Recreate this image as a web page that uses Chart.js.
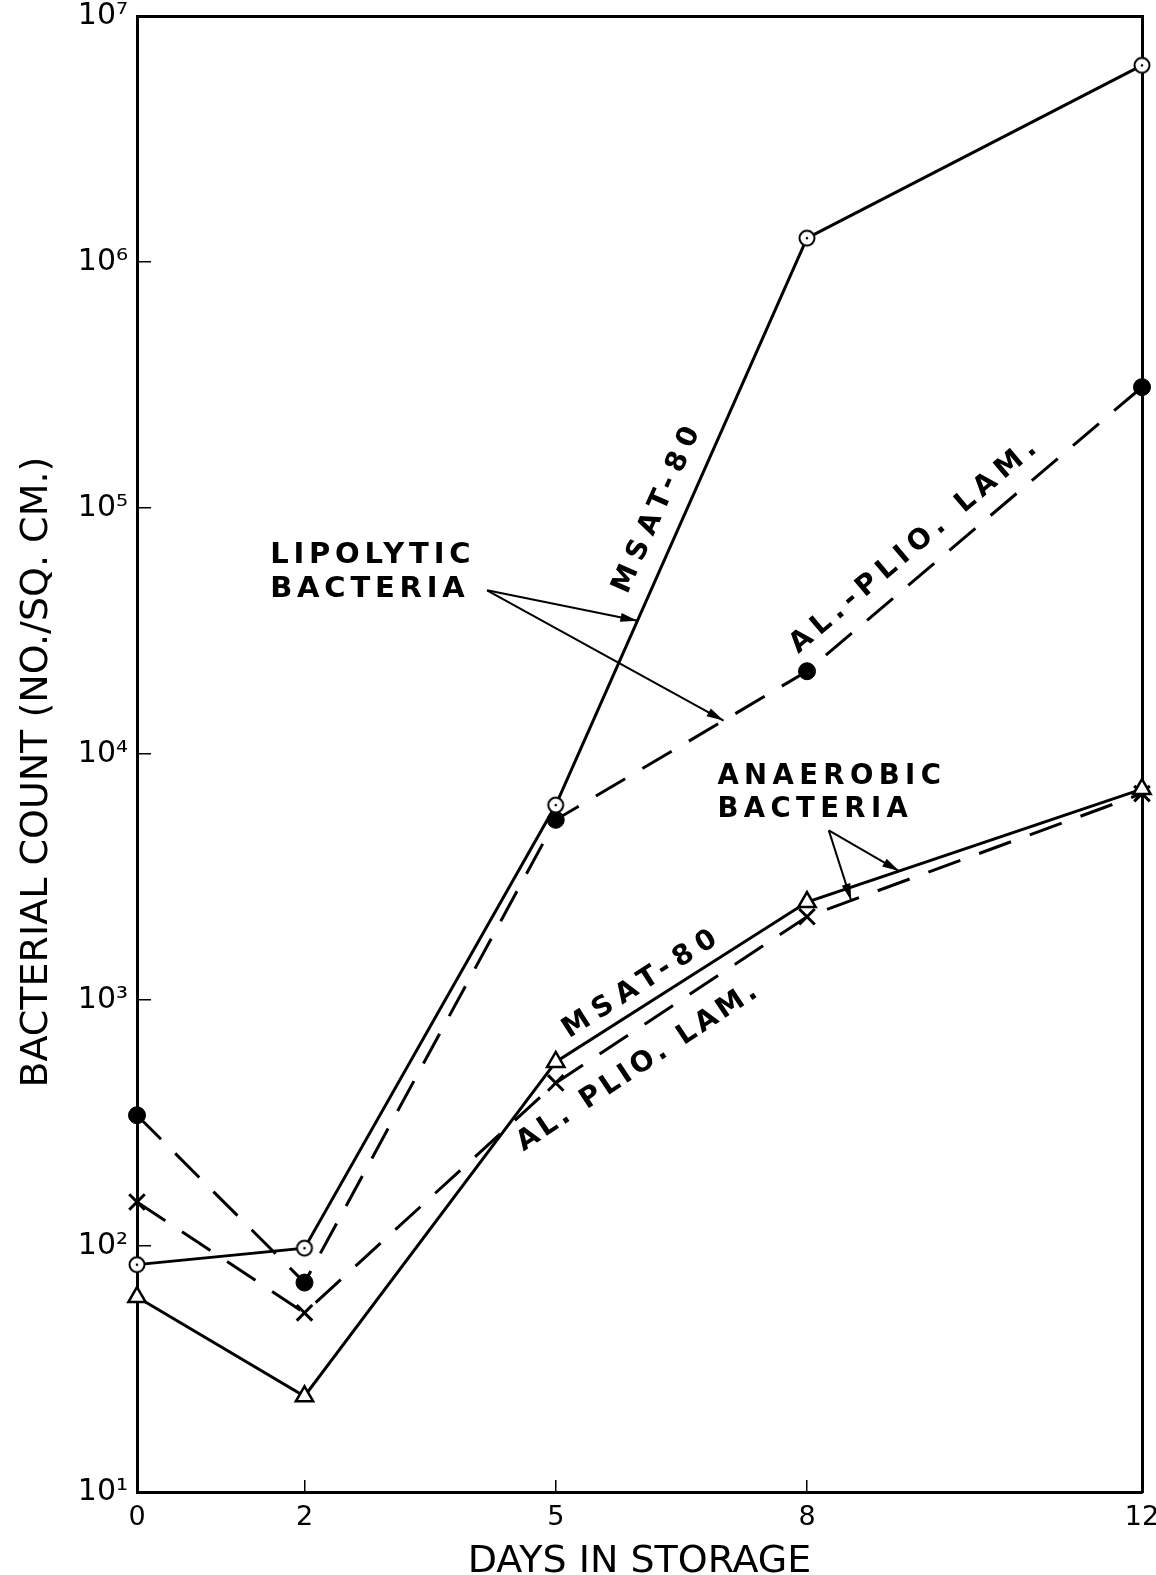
<!DOCTYPE html>
<html>
<head>
<meta charset="utf-8">
<script src="https://cdn.jsdelivr.net/npm/chart.js@4.4.1/dist/chart.umd.min.js"></script>
<style>
  html, body { margin: 0; padding: 0; background: #fff; }
  #wrap { width: 1156px; height: 1575px; }
</style>
</head>
<body>
<div id="wrap"><canvas id="c" width="1156" height="1575"></canvas></div>
<script>
// Days in storage and counts per sq. cm
const days = [0, 2, 5, 8, 12];
const lipolyticMsat = [84, 98, 6200, 1250000, 6300000];
const lipolyticAlPlio = [340, 71, 5400, 21700, 310000];
const anaerobicMsat = [62, 24.5, 560, 2500, 7200];
const anaerobicAlPlio = [151, 53.5, 460, 2180, 6900];

const xTicks = [0, 2, 5, 8, 12];
const yTicks = [1e1, 1e2, 1e3, 1e4, 1e5, 1e6, 1e7];

const xTitle = 'DAYS IN STORAGE';
const yTitle = 'BACTERIAL COUNT (NO./SQ. CM.)';
const groupLabels = [['LIPOLYTIC', 'BACTERIA'], ['ANAEROBIC', 'BACTERIA']];
const seriesLabels = ['MSAT-80', 'AL.-PLIO. LAM.', 'MSAT-80', 'AL. PLIO. LAM.'];

const FONT = "'DejaVu Sans', 'Liberation Sans', sans-serif";
const SUP = { '0': '\u2070', '1': '\u00B9', '2': '\u00B2', '3': '\u00B3', '4': '\u2074',
              '5': '\u2075', '6': '\u2076', '7': '\u2077', '8': '\u2078', '9': '\u2079' };

function toPoints(vals) { return days.map((d, i) => ({ x: d, y: vals[i] })); }

// open circle with a dot in the middle
function ringDot() {
  const c = document.createElement('canvas');
  c.width = c.height = 20;
  const g = c.getContext('2d');
  g.beginPath(); g.arc(10, 10, 7.5, 0, Math.PI * 2);
  g.fillStyle = '#fff'; g.fill();
  g.lineWidth = 2; g.strokeStyle = '#000'; g.stroke();
  g.beginPath(); g.arc(10, 10, 1.3, 0, Math.PI * 2);
  g.fillStyle = '#000'; g.fill();
  return c;
}

function fitBox(size, vertical) {
  return function (scale) {
    if (vertical) scale.width = size; else scale.height = size;
    scale.paddingLeft = scale.paddingRight = scale.paddingTop = scale.paddingBottom = 0;
  };
}

// point at fraction t along segment i of dataset ds, shifted d px along the left normal
function onSegment(chart, ds, i, t, d) {
  const pts = chart.getDatasetMeta(ds).data;
  const p0 = pts[i], p1 = pts[i + 1];
  const a = Math.atan2(p1.y - p0.y, p1.x - p0.x);
  return {
    x: p0.x + (p1.x - p0.x) * t + Math.sin(a) * d,
    y: p0.y + (p1.y - p0.y) * t - Math.cos(a) * d,
    a: a
  };
}

function arrow(ctx, x0, y0, x1, y1) {
  ctx.beginPath(); ctx.moveTo(x0, y0); ctx.lineTo(x1, y1); ctx.stroke();
  const a = Math.atan2(y1 - y0, x1 - x0), L = 17, W = 4.5;
  ctx.beginPath();
  ctx.moveTo(x1, y1);
  ctx.lineTo(x1 - L * Math.cos(a) + W * Math.sin(a), y1 - L * Math.sin(a) - W * Math.cos(a));
  ctx.lineTo(x1 - L * Math.cos(a) - W * Math.sin(a), y1 - L * Math.sin(a) + W * Math.cos(a));
  ctx.closePath(); ctx.fill();
}

const annotations = {
  id: 'annotations',
  afterDatasetsDraw(chart) {
    const { ctx } = chart;
    const xs = chart.scales.x, ys = chart.scales.y;
    ctx.save();
    ctx.fillStyle = '#000';
    ctx.strokeStyle = '#000';
    ctx.textBaseline = 'alphabetic';

    // group labels
    const groups = [
      { lines: groupLabels[0], day: 1.59, val: 59600, size: 29, spacing: 4.8, lead: 34 },
      { lines: groupLabels[1], day: 6.93, val: 7520, size: 27.5, spacing: 5.4, lead: 33 }
    ];
    groups.forEach(g => {
      ctx.font = 'bold ' + g.size + 'px ' + FONT;
      ctx.letterSpacing = g.spacing + 'px';
      ctx.textAlign = 'left';
      const x = xs.getPixelForValue(g.day), y = ys.getPixelForValue(g.val);
      g.lines.forEach((s, k) => ctx.fillText(s, x, y + k * g.lead));
    });

    // labels written along their lines
    const along = [
      { text: seriesLabels[0], ds: 0, seg: 2, t: 0.507, d: 27, spacing: 7.6 },
      { text: seriesLabels[1], ds: 1, seg: 3, t: 0.375, d: 26, spacing: 6.3 },
      { text: seriesLabels[2], ds: 2, seg: 2, t: 0.39, d: 20, spacing: 7.4 },
      { text: seriesLabels[3], ds: 3, seg: 2, t: 0.26, d: -32, spacing: 4 }
    ];
    along.forEach(l => {
      const p = onSegment(chart, l.ds, l.seg, l.t, l.d);
      ctx.save();
      ctx.translate(p.x, p.y);
      ctx.rotate(p.a);
      ctx.font = 'bold 28px ' + FONT;
      ctx.letterSpacing = l.spacing + 'px';
      ctx.textAlign = 'center';
      ctx.textBaseline = 'middle';
      ctx.fillText(l.text, 0, 0);
      ctx.restore();
    });

    // pointer arrows
    ctx.letterSpacing = '0px';
    ctx.lineWidth = 2;
    const pointers = [
      { from: [4.18, 46300], to: [[0, 2, 0.325], [1, 2, 0.668]] },
      { from: [8.26, 4890], to: [[3, 3, 0.132], [2, 3, 0.275]] }
    ];
    pointers.forEach(pr => {
      const x0 = xs.getPixelForValue(pr.from[0]), y0 = ys.getPixelForValue(pr.from[1]);
      pr.to.forEach(([ds, seg, t]) => {
        const p = onSegment(chart, ds, seg, t, 0);
        arrow(ctx, x0, y0, p.x, p.y);
      });
    });
    ctx.restore();
  }
};

const ring = ringDot();

new Chart(document.getElementById('c'), {
  type: 'line',
  data: {
    datasets: [
      { label: 'Lipolytic MSAT-80', data: toPoints(lipolyticMsat), borderColor: '#000', borderWidth: 3,
        pointStyle: ring, pointRadius: 8, clip: false },
      { label: 'Lipolytic Al.-Plio. Lam.', data: toPoints(lipolyticAlPlio), borderColor: '#000', borderWidth: 3,
        borderDash: [34, 20], pointStyle: 'circle', pointRadius: 8.5, pointBackgroundColor: '#000',
        pointBorderColor: '#000', pointBorderWidth: 1, clip: false },
      { label: 'Anaerobic MSAT-80', data: toPoints(anaerobicMsat), borderColor: '#000', borderWidth: 3,
        pointStyle: 'triangle', pointRadius: 10, pointBackgroundColor: '#fff', pointBorderColor: '#000',
        pointBorderWidth: 2.5, clip: false },
      { label: 'Anaerobic Al.-Plio. Lam.', data: toPoints(anaerobicAlPlio), borderColor: '#000', borderWidth: 3,
        borderDash: [34, 20], pointStyle: 'crossRot', pointRadius: 11, pointBorderColor: '#000',
        pointBorderWidth: 3, clip: false }
    ]
  },
  options: {
    responsive: false,
    animation: false,
    devicePixelRatio: 1,
    layout: { padding: { left: 0, right: 14, top: 16, bottom: 0 } },
    plugins: { legend: { display: false }, tooltip: { enabled: false } },
    elements: { line: { tension: 0 } },
    scales: {
      x: {
        type: 'linear', position: 'bottom', min: 0, max: 12,
        afterBuildTicks: s => { s.ticks = xTicks.map(v => ({ value: v })); },
        afterFit: fitBox(83, false),
        ticks: { color: '#000', padding: 24, font: { family: FONT, size: 27, lineHeight: 1 }, maxRotation: 0 },
        grid: { display: true, drawOnChartArea: false, drawTicks: true, tickLength: -12, color: '#000', lineWidth: 1.5 },
        border: { display: true, color: '#000', width: 3 },
        title: { display: true, text: xTitle, color: '#000', font: { family: FONT, size: 38, lineHeight: 1 },
                 padding: { top: 0, bottom: -6 } }
      },
      y: {
        type: 'logarithmic', position: 'left', min: 10, max: 1e7,
        afterBuildTicks: s => { s.ticks = yTicks.map(v => ({ value: v })); },
        afterFit: fitBox(137, true),
        ticks: {
          color: '#000', padding: 23, font: { family: FONT, size: 30, lineHeight: 1 },
          callback: v => '10' + String(Math.round(Math.log10(v))).split('').map(c => SUP[c]).join('')
        },
        grid: { display: true, drawOnChartArea: false, drawTicks: true, tickLength: -14, color: '#000', lineWidth: 1.5 },
        border: { display: true, color: '#000', width: 3 },
        title: { display: true, text: yTitle + '   ', color: '#000', font: { family: FONT, size: 38, lineHeight: 1 },
                 padding: { top: 18, bottom: 0 } }
      },
      xTop: {
        type: 'linear', position: 'top', min: 0, max: 12, display: true,
        afterFit: fitBox(0, false),
        ticks: { display: false }, grid: { display: false },
        border: { display: true, color: '#000', width: 3 }
      },
      yRight: {
        type: 'linear', position: 'right', min: 0, max: 1, display: true,
        afterFit: fitBox(0, true),
        ticks: { display: false }, grid: { display: false },
        border: { display: true, color: '#000', width: 3 }
      }
    }
  },
  plugins: [annotations]
});
</script>
</body>
</html>
